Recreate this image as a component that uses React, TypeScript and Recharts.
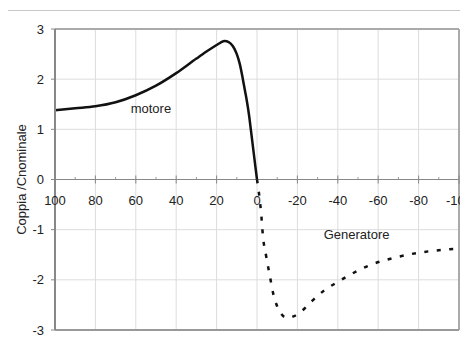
import React from 'react';
import {
  LineChart,
  Line,
  XAxis,
  YAxis,
  ReferenceLine,
  ReferenceDot,
} from 'recharts';

const xTicks = [100, 80, 60, 40, 20, 0, -20, -40, -60, -80, -100];
const xMinorTicks = [90, 70, 50, 30, 10, -10, -30, -50, -70, -90];
const yTicks = [-3, -2, -1, 0, 1, 2, 3];

// scorrimento (%) / coppia relativa, regime motore
const motoreSlip = [100, 90, 80, 70, 60, 50, 40, 30, 25, 20, 18, 16, 14, 12, 10, 8.5, 7, 6, 5, 4, 3, 2, 1, 0];
const motoreTorque = [1.38, 1.42, 1.46, 1.54, 1.68, 1.87, 2.12, 2.41, 2.55, 2.68, 2.73, 2.76, 2.74, 2.66, 2.5, 2.3, 2.0, 1.78, 1.56, 1.3, 0.98, 0.65, 0.32, 0];

// regime generatore
const genSlip = [0, -2, -3, -4.5, -6.5, -8, -10, -12, -15, -18, -21, -27, -33, -40, -46, -57, -69, -80, -90, -100];
const genTorque = [0, -0.65, -1.15, -1.52, -1.95, -2.27, -2.53, -2.68, -2.76, -2.73, -2.66, -2.43, -2.22, -2.04, -1.9, -1.69, -1.55, -1.46, -1.41, -1.38];

const motoreData = motoreSlip.map((x, i) => ({ x, y: motoreTorque[i] }));
const genData = genSlip.map((x, i) => ({ x, y: genTorque[i] }));

const FONT = '"Liberation Sans", Arial, sans-serif';
const TEXT = '#222';
const GRID = '#dcdcdc';

export default function App() {
  return (
    <div style={{ position: 'relative', width: 460, height: 352, marginBottom: -16, fontFamily: FONT }}>
      <div
        style={{
          position: 'absolute',
          left: -1,
          top: 2,
          width: 461,
          height: 350,
          boxSizing: 'border-box',
          borderTop: '1px solid #c8c8c8',
          borderLeft: '1px solid #c8c8c8',
        }}
      />
      <LineChart
        width={460}
        height={352}
        margin={{ top: 21, right: 9, bottom: 0, left: 0 }}
        style={{ position: 'relative', fontFamily: FONT }}
      >
        <XAxis
          dataKey="x"
          type="number"
          domain={[-100, 100]}
          reversed
          ticks={xTicks}
          tick={false}
          tickLine={false}
          axisLine={false}
          height={30}
          label={{ value: 'Scorrimento (%)', position: 'insideBottom', offset: 2, fill: TEXT, fontSize: 13 }}
        />
        <YAxis
          type="number"
          domain={[-3, 3]}
          ticks={yTicks}
          width={47}
          tickSize={4}
          tickMargin={7}
          axisLine={{ stroke: '#888', strokeWidth: 2 }}
          tickLine={{ stroke: '#888' }}
          tick={{ fill: TEXT, fontSize: 13 }}
          label={{
            value: 'Coppia /Cnominale',
            angle: -90,
            position: 'insideLeft',
            offset: 13,
            textAnchor: 'middle',
            fill: TEXT,
            fontSize: 13,
          }}
        />
        {xTicks.slice(1, -1).map((v) => (
          <ReferenceLine key={'gx' + v} x={v} stroke={GRID} />
        ))}
        {yTicks.slice(1, -1).map((v) => (
          <ReferenceLine key={'gy' + v} y={v} stroke={GRID} />
        ))}
        <ReferenceLine y={3} stroke="#aaa" strokeWidth={2} />
        <ReferenceLine x={-100} stroke="#aaa" strokeWidth={2} />
        <ReferenceLine y={-3} stroke="#999" strokeWidth={2} />
        <ReferenceLine y={0} stroke="#888" strokeWidth={1} />
        {xTicks.map((v) => (
          <ReferenceLine
            key={'M' + v}
            segment={[{ x: v, y: -0.08 }, { x: v, y: 0.08 }]}
            stroke="#888"
          />
        ))}
        {xMinorTicks.map((v) => (
          <ReferenceLine
            key={'m' + v}
            segment={[{ x: v, y: 0 }, { x: v, y: 0.05 }]}
            stroke="#999"
          />
        ))}
        {xTicks.map((v) => (
          <ReferenceDot
            key={'L' + v}
            x={v}
            y={0}
            r={0}
            stroke="none"
            fill="none"
            label={{ value: String(v), position: 'bottom', offset: 16, fill: TEXT, fontSize: 13 }}
          />
        ))}
        <Line
          data={motoreData}
          dataKey="y"
          type="monotone"
          stroke="#111"
          strokeWidth={2.5}
          dot={false}
          isAnimationActive={false}
        />
        <Line
          data={genData}
          dataKey="y"
          type="monotone"
          stroke="#111"
          strokeWidth={2.5}
          strokeDasharray="4 8.5"
          dot={false}
          isAnimationActive={false}
        />
        <ReferenceDot
          x={52.5}
          y={1.42}
          r={0}
          stroke="none"
          fill="none"
          label={{ value: 'motore', position: 'center', fill: TEXT, fontSize: 13 }}
        />
        <ReferenceDot
          x={-49.3}
          y={-1.09}
          r={0}
          stroke="none"
          fill="none"
          label={{ value: 'Generatore', position: 'center', fill: TEXT, fontSize: 13 }}
        />
      </LineChart>
    </div>
  );
}
